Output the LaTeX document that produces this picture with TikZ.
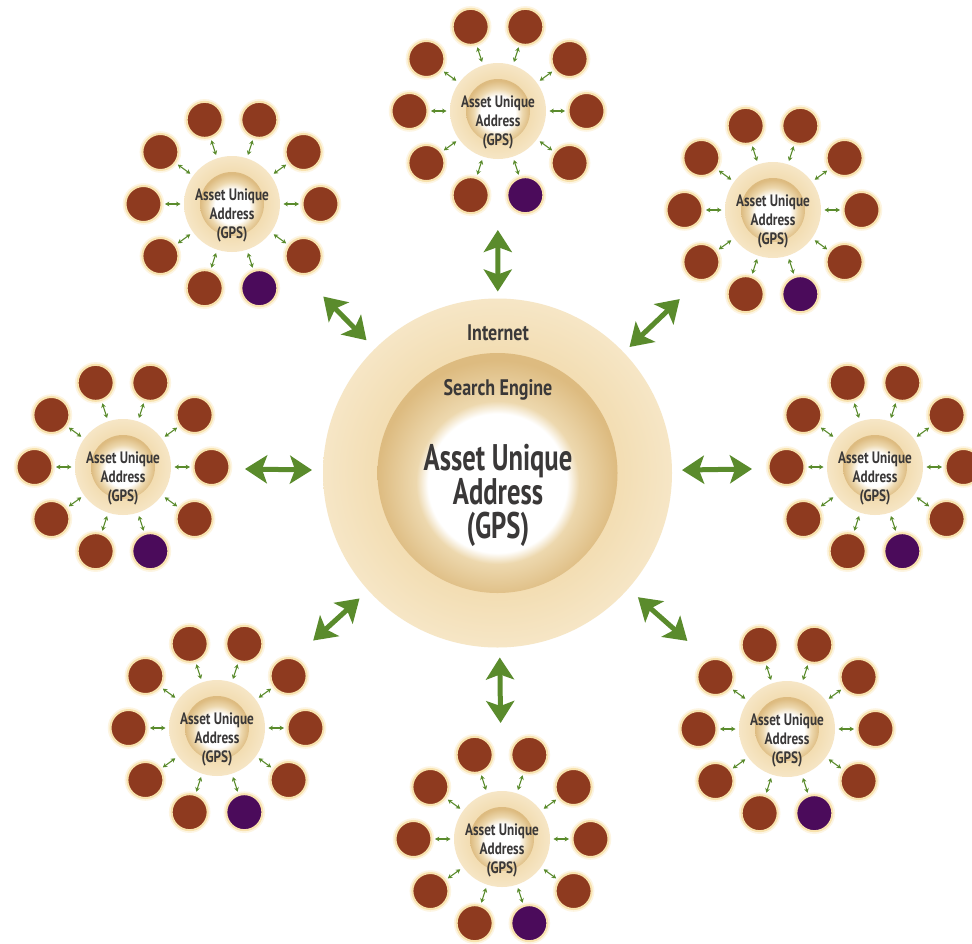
\documentclass[tikz,border=0pt]{standalone}
\usepackage{fontspec}
\newfontfamily\cf[FakeStretch=0.72]{PT Sans}
\newfontfamily\cfw[FakeStretch=0.8]{PT Sans}
\usetikzlibrary{arrows.meta,calc}
\definecolor{brownS}{HTML}{8E3A1F}
\definecolor{purpleS}{HTML}{4B0B5B}
\definecolor{greenA}{HTML}{5A8B2C}
\definecolor{txtC}{HTML}{3A3838}
\definecolor{hubC}{HTML}{F2DCB0}
\definecolor{hubE}{HTML}{F6E6C6}
\definecolor{ringA}{HTML}{DDBB80}
\definecolor{ringB}{HTML}{EDD8AE}
\definecolor{glowA}{HTML}{F8E2AE}
\definecolor{glowB}{HTML}{FDF5E2}
\pgfdeclareradialshading{hubinshade}{\pgfpoint{0bp}{-2.5bp}}{color(0bp)=(white); color(13.5bp)=(white); color(19bp)=(ringB); color(25bp)=(ringA); color(50bp)=(ringA)}
\pgfdeclareradialshading{bigmidshade}{\pgfpoint{0bp}{-3bp}}{color(0bp)=(white); color(14.5bp)=(white); color(17bp)=(ringB); color(25bp)=(ringA); color(50bp)=(ringA)}
\pgfdeclareradialshading{outshade}{\pgfpoint{0bp}{0bp}}{color(0bp)=(hubC); color(16bp)=(hubC); color(25bp)=(hubE); color(50bp)=(hubE)}
\tikzset{
  hubout/.style={circle, minimum size=96pt, inner sep=0pt, outer sep=0pt, shading=outshade},
  hubin/.style={circle, minimum size=64pt, inner sep=0pt, outer sep=0pt, shading=hubinshade},
  hubtxt/.style={align=center, text=txtC, font=\cfw\bfseries\fontsize{16.5}{19}\selectfont, inner sep=0pt},
  sat/.style={circle, minimum size=36pt, inner sep=0pt, outer sep=0pt, draw=glowA, line width=2pt,
              preaction={draw=glowB, line width=5.5pt}},
  smallarr/.style={draw=greenA, line width=1.1pt, {Stealth[length=4.4pt,width=4.8pt]}-{Stealth[length=4.4pt,width=4.8pt]},
              shorten <=3.5pt, shorten >=3.5pt},
  bigarr/.style={draw=greenA, line width=5pt, {Stealth[length=22pt,width=28pt,inset=5pt]}-{Stealth[length=22pt,width=28pt,inset=5pt]}},
  bigout/.style={circle, minimum size=349pt, inner sep=0pt, outer sep=0pt, shading=outshade},
  bigmid/.style={circle, minimum size=240pt, inner sep=0pt, outer sep=0pt, shading=bigmidshade},
  bigtxt/.style={align=center, text=txtC, inner sep=0pt}
}
\begin{document}
\begin{tikzpicture}[x=1pt,y=-1pt]
\fill[white] (0,0) rectangle (972,943);
\useasboundingbox (0,0) rectangle (972,943);
% central circles
\node[bigout] (C) at (497.5,473) {};
\node[bigmid] (Cm) at (C) {};
\node[bigtxt, font=\cfw\bfseries\fontsize{22.5}{24}\selectfont] (Cint) at (498,333) {Internet};
\node[bigtxt, font=\cfw\bfseries\fontsize{22.5}{24}\selectfont] (Cse) at (498,390) {Search Engine};
\node[bigtxt, font=\cf\bfseries\fontsize{37}{34}\selectfont] (Ctxt) at (498,495) {Asset Unique\\Address\\(GPS)};
% clusters
\foreach \c/\x/\y in {T/498/111, TL/232/204, TR/773/210, L/123/467, R/875/467, BL/217/728, BR/787/729, B/502/839}{
  \node[hubout] (\c) at (\x,\y) {};
  \node[hubin] (\c-in) at (\c) {};
  \node[hubtxt] (\c-t) at ($(\c)+(0,11)$) {Asset Unique\\Address\\(GPS)};
  \foreach \a/\col [count=\i] in {0/brownS,36/brownS,72/purpleS,108/brownS,144/brownS,180/brownS,216/brownS,252/brownS,288/brownS,324/brownS}{
    \node[sat, fill=\col] (\c-s\i) at ($(\c)+(\a:88.5)$) {};
    \draw[smallarr] (\c) -- (\c-s\i);
  }
}
% big arrows
\draw[bigarr, shorten <=7pt, shorten >=71pt] (C) -- (T);
\draw[bigarr, shorten <=12pt, shorten >=82pt] (C) -- (TL);
\draw[bigarr, shorten <=8pt, shorten >=81pt] (C) -- (TR);
\draw[bigarr, shorten <=11pt, shorten >=74pt] (C) -- (L);
\draw[bigarr, shorten <=10pt, shorten >=75pt] (C) -- (R);
\draw[bigarr, shorten <=12pt, shorten >=82pt] (C) -- (BL);
\draw[bigarr, shorten <=13pt, shorten >=85pt] (C) -- (BR);
\draw[bigarr, shorten <=10pt, shorten >=68pt] (C) -- (B);
\end{tikzpicture}
\end{document}
